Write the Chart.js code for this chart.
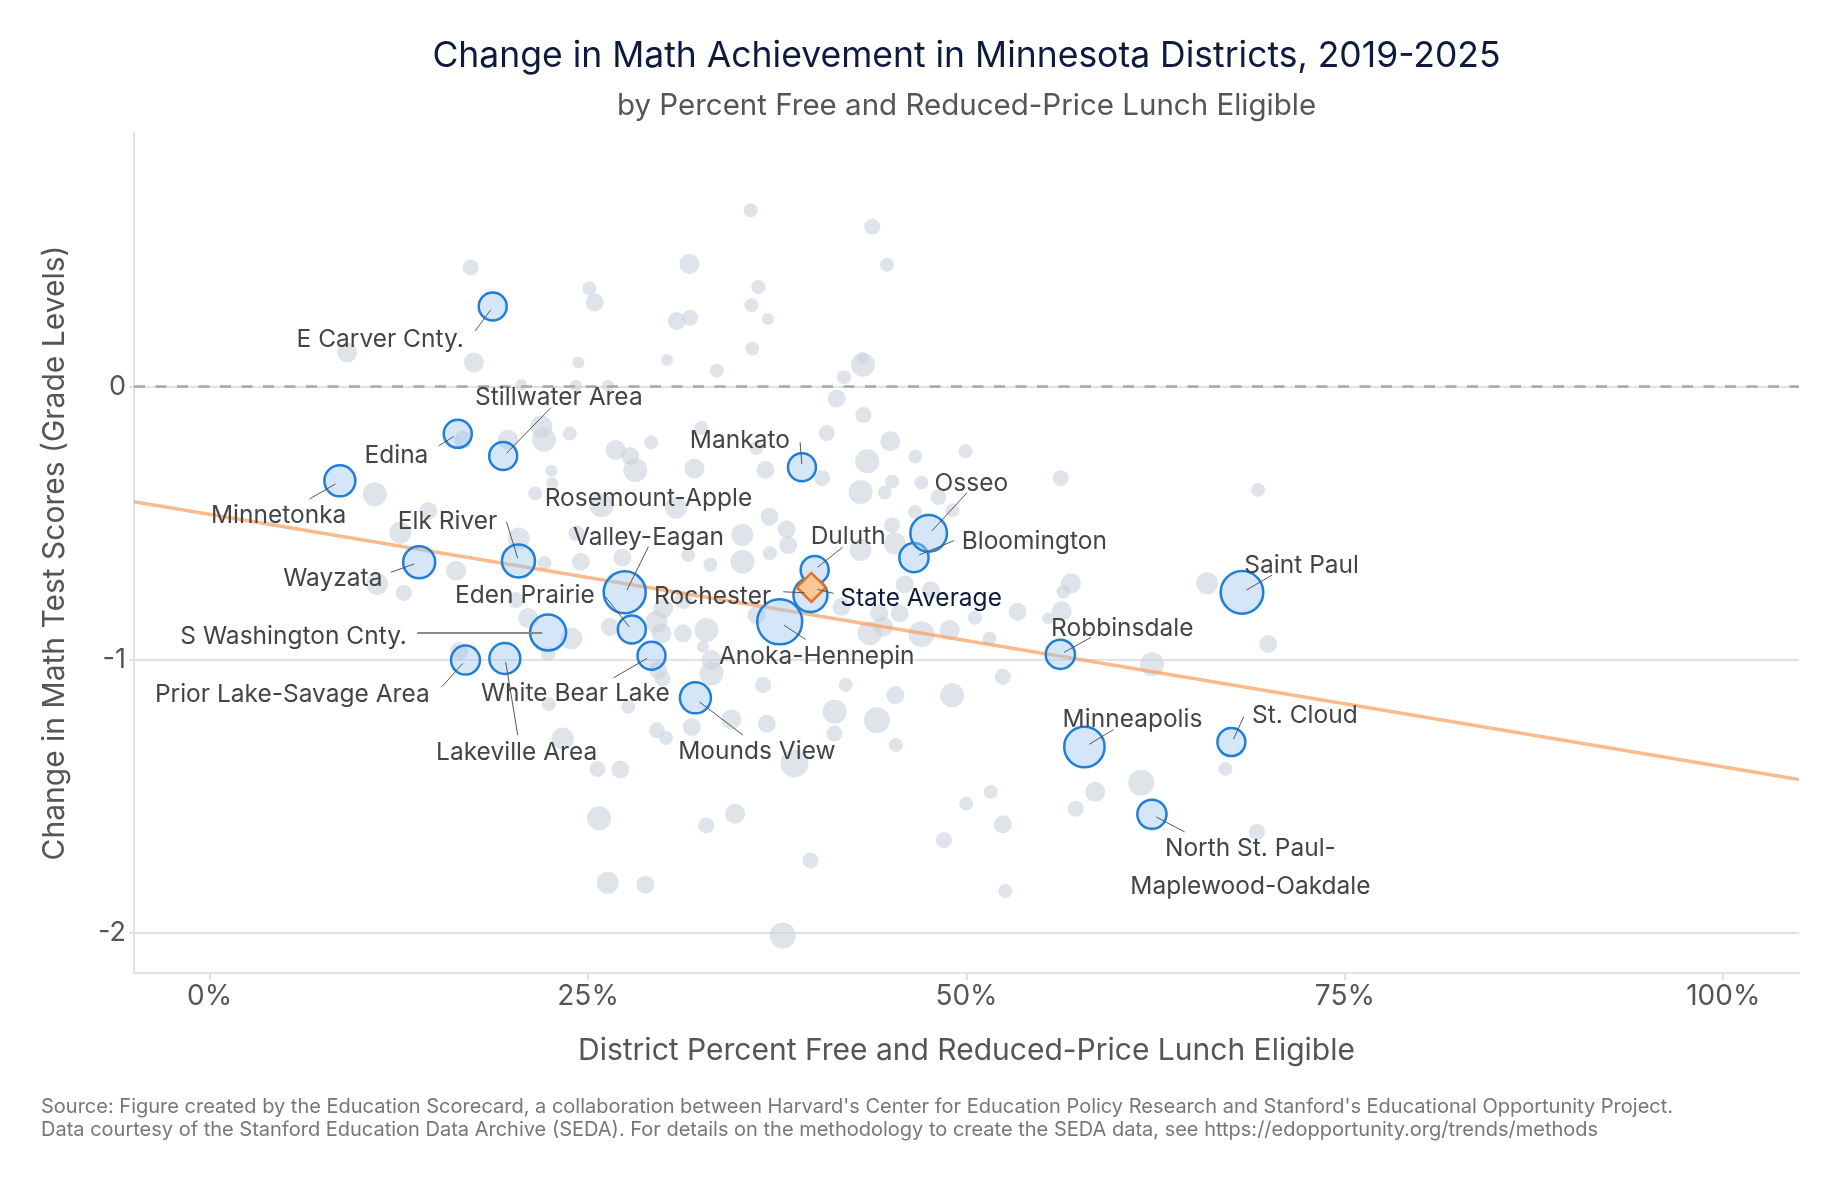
<!DOCTYPE html>
<html>
<head>
<meta charset="utf-8">
<script src="https://cdn.jsdelivr.net/npm/chart.js@4.4.1/dist/chart.umd.min.js"></script>
<style>
html,body{margin:0;padding:0;background:#fff;}
#wrap{position:relative;width:1841px;height:1182px;overflow:hidden;}
canvas{position:absolute;left:0;top:0;}
.t{position:absolute;font-family:Inter,"Noto Sans",sans-serif;white-space:nowrap;}
#title{left:134px;width:1665px;text-align:center;top:35px;font-size:35.5px;line-height:40px;color:#0c1a3d;}
#sub{left:134px;width:1665px;text-align:center;top:87.4px;font-size:29.5px;line-height:34px;color:#555;}
#foot{left:41px;top:1094.6px;font-size:20px;line-height:23.5px;color:#777;}
</style>
</head>
<body>
<div id="wrap">
<canvas id="c" width="1841" height="1182"></canvas>
<div id="title" class="t">Change in Math Achievement in Minnesota Districts, 2019-2025</div>
<div id="sub" class="t">by Percent Free and Reduced-Price Lunch Eligible</div>
<div id="foot" class="t">Source: Figure created by the Education Scorecard, a collaboration between Harvard's Center for Education Policy Research and Stanford's Educational Opportunity Project.<br>Data courtesy of the Stanford Education Data Archive (SEDA). For details on the methodology to create the SEDA data, see https://edopportunity.org/trends/methods</div>
</div>
<script>
// ---- data ----
const xTicks = [0, 25, 50, 75, 100];
const yTicks = [-2, -1, 0];

const grayX = [35.74,43.78,17.24,31.69,44.75,25.09,25.44,36.25,35.79,36.87,30.86,31.74,9.08,17.46,35.84,30.22,24.36,33.50,41.91,43.16,43.14,26.30,20.58,24.20,41.43,43.19,40.77,44.97,32.49,29.17,21.91,22.09,23.79,16.74,19.71,26.82,27.78,28.12,32.03,36.71,36.12,40.46,46.62,49.93,43.44,43.00,44.60,45.08,47.02,48.15,49.08,46.61,45.26,42.99,45.08,56.23,69.26,22.58,22.63,21.50,10.91,25.88,30.81,12.59,14.45,20.42,24.23,24.52,27.27,31.61,33.08,35.20,35.19,36.98,38.12,38.22,37.01,22.12,16.28,11.06,12.83,21.04,23.89,22.36,16.48,20.22,26.43,29.52,29.96,31.28,32.82,31.28,29.85,32.58,33.15,33.15,29.62,29.93,27.66,22.40,23.33,29.55,30.15,25.62,27.13,25.72,26.30,28.78,32.80,34.71,38.63,39.69,37.86,31.85,34.47,36.81,36.56,42.02,45.30,49.05,41.29,44.08,41.28,45.33,36.12,41.74,43.61,45.58,44.23,44.48,47.03,48.89,50.56,51.52,45.92,47.64,53.38,56.90,56.40,56.29,55.39,52.40,65.90,69.93,62.26,67.10,61.54,58.50,57.22,69.19,51.60,49.98,48.51,52.40,52.56];
const grayY = [0.645,0.585,0.436,0.449,0.446,0.360,0.308,0.364,0.298,0.247,0.240,0.252,0.125,0.088,0.139,0.097,0.088,0.058,0.034,0.080,0.105,0.003,0.006,0.003,-0.044,-0.104,-0.170,-0.200,-0.152,-0.205,-0.146,-0.195,-0.172,-0.195,-0.195,-0.232,-0.254,-0.305,-0.300,-0.305,-0.225,-0.335,-0.256,-0.237,-0.273,-0.386,-0.388,-0.347,-0.351,-0.404,-0.453,-0.459,-0.574,-0.598,-0.507,-0.335,-0.378,-0.308,-0.354,-0.391,-0.394,-0.434,-0.443,-0.535,-0.455,-0.556,-0.537,-0.641,-0.626,-0.616,-0.652,-0.641,-0.543,-0.476,-0.522,-0.580,-0.610,-0.646,-0.674,-0.722,-0.755,-0.847,-0.922,-0.979,-0.967,-0.781,-0.879,-0.861,-0.812,-0.781,-0.891,-0.903,-0.903,-0.952,-1.001,-1.050,-1.037,-1.068,-1.172,-1.162,-1.288,-1.258,-1.286,-1.399,-1.401,-1.580,-1.816,-1.823,-1.606,-1.563,-1.379,-1.734,-2.009,-1.246,-1.218,-1.233,-1.092,-1.092,-1.129,-1.130,-1.190,-1.221,-1.270,-1.312,-0.836,-0.806,-0.903,-0.830,-0.830,-0.879,-0.906,-0.891,-0.846,-0.922,-0.723,-0.745,-0.824,-0.720,-0.751,-0.822,-0.848,-1.062,-0.720,-0.942,-1.016,-1.399,-1.450,-1.483,-1.545,-1.630,-1.483,-1.526,-1.660,-1.602,-1.846];
const grayR = [7,8,8,10,7,7,9,7,7,6,9,8,10,10,7,6,6,7,7,12,6,6,6,6,9,8,8,10,7,7,11,12,7,9,10,10,9,12,10,9,7,8,7,7,12,12,7,7,7,8,7,7,11,11,8,8,7,6,6,7,12,12,11,11,9,11,8,9,9,7,7,12,11,9,9,9,7,7,10,11,8,10,11,7,9,8,9,11,10,9,12,9,10,6,10,12,9,8,7,7,11,8,7,8,9,12,11,9,8,10,14,8,13,9,10,9,8,7,9,12,12,13,8,7,9,9,12,9,9,10,13,10,7,7,9,9,9,10,7,10,6,8,11,9,12,7,13,10,8,8,7,7,8,9,7];

const hlNames = ['E Carver Cnty.','Edina','Stillwater Area','Minnetonka','Wayzata','Elk River','S Washington Cnty.','Prior Lake-Savage Area','Lakeville Area','Rosemount-Apple\nValley-Eagan','Eden Prairie','White Bear Lake','Mounds View','Anoka-Hennepin','Rochester','Duluth','Mankato','Bloomington','Osseo','Robbinsdale','Saint Paul','Minneapolis','St. Cloud','North St. Paul-\nMaplewood-Oakdale'];
const hlX = [18.70,16.39,19.39,8.60,13.84,20.40,22.36,16.90,19.50,27.42,27.89,29.19,32.09,37.66,39.69,39.97,39.13,46.53,47.50,56.20,68.20,57.79,67.50,62.25];
const hlY = [0.293,-0.173,-0.254,-0.345,-0.643,-0.638,-0.900,-1.001,-0.995,-0.753,-0.889,-0.985,-1.139,-0.861,-0.763,-0.671,-0.295,-0.626,-0.537,-0.980,-0.753,-1.319,-1.301,-1.565];
const hlR = [14,14,14,15.5,16,16.5,18,14.5,15.5,21,14,14,15.5,22.5,17,14,14,14.6,18.3,14.6,21.3,20.2,14,14.6];

const stateName = 'State Average';
const stateX = [39.75];
const stateY = [-0.735];

const trendX = [-5, 105];
const trendY = [-0.421, -1.438];

// ---- label layout (pixel offsets from each point) ----
const labelLayout = {
  'E Carver Cnty.': {dx:-29, dy:30, a:'right', l:[-17.5,24.3,-2,3.3]},
  'Edina': {dx:-29.4, dy:18.7, a:'right', l:[-19.2,12,-4,2.7]},
  'Stillwater Area': {dx:55.7, dy:-61, a:'center', l:[47.7,-48.3,3.4,-2.7]},
  'Minnetonka': {dx:-61.2, dy:31.7, a:'center', l:[-30.2,18,-4.3,3]},
  'Wayzata': {dx:-36.7, dy:13.7, a:'right', l:[-28.3,10,-5,1.7]},
  'Elk River': {dx:-70.9, dy:-42, a:'center', l:[-12,-39.3,-0.8,-2.7]},
  'S Washington Cnty.': {dx:-141.2, dy:1, a:'right', l:[-130.9,0.4,-5.9,0.4], lc:'#888', lw:2},
  'Prior Lake-Savage Area': {dx:-35.8, dy:31.7, a:'right', l:[-23.7,26.7,-2.7,3.3]},
  'Lakeville Area': {dx:11.8, dy:90.7, a:'center', l:[12.9,76.7,0.8,3.4]},
  'Rosemount-Apple\nValley-Eagan': {dx:23.7, dy:-96.3, a:'center', l:[23.7,-45.6,2.2,-2.3]},
  'Eden Prairie': {dx:-37, dy:-37, a:'right', l:[-26.2,-32.6,-2.5,-2.6]},
  'White Bear Lake': {dx:-76.2, dy:35, a:'center', l:[-37.9,22,-4.4,2.6]},
  'Mounds View': {dx:61.5, dy:51.3, a:'center', l:[47.6,37.3,3.9,4]},
  'Anoka-Hennepin': {dx:37, dy:31.6, a:'center', l:[25.8,17.6,4.4,3.3]},
  'Rochester': {dx:-39.3, dy:-1.7, a:'right', l:[-27.2,-3.3,-5.7,-2.3]},
  'Duluth': {dx:33.5, dy:-36, a:'center', l:[27.9,-22.7,2.9,-2.7]},
  'State Average': {dx:28.9, dy:8.4, a:'left', l:[6.2,2,22.2,6]},
  'Mankato': {dx:-12.1, dy:-30, a:'right', l:[-1.9,-25,-0.1,-3]},
  'Osseo': {dx:42.7, dy:-52.6, a:'center', l:[38.4,-40.6,3.1,-2.3]},
  'Bloomington': {dx:47.7, dy:-19.4, a:'left', l:[40.2,-17,5.3,-2.7]},
  'Robbinsdale': {dx:61.9, dy:-28.3, a:'center', l:[30.5,-17,3.7,-2]},
  'Saint Paul': {dx:59.7, dy:-29.6, a:'center', l:[30.2,-17.3,4.4,-2.3]},
  'Minneapolis': {dx:48.1, dy:-30, a:'center', l:[29,-17.4,4.9,-2.7]},
  'St. Cloud': {dx:73.5, dy:-29.7, a:'center', l:[12.3,-25.3,2.1,-3]},
  'North St. Paul-\nMaplewood-Oakdale': {dx:98.5, dy:31, a:'center', l:[32.7,17.7,4.3,2.7]}
};
const LABEL_SHIFT_Y = 3;

const FONT = 'Inter, "Noto Sans", sans-serif';
const GRID = '#e2e2e2';

const zeroLinePlugin = {
  id: 'zeroLine',
  afterDatasetsDraw(chart) {
    const {ctx, chartArea, scales} = chart;
    const y = scales.y.getPixelForValue(0);
    ctx.save();
    ctx.strokeStyle = '#a8a8a8';
    ctx.lineWidth = 2.5;
    ctx.setLineDash([11, 10.5]);
    ctx.beginPath();
    ctx.moveTo(chartArea.left, y);
    ctx.lineTo(chartArea.right, y);
    ctx.stroke();
    ctx.restore();
  }
};

const labelPlugin = {
  id: 'districtLabels',
  afterDraw(chart) {
    const {ctx, scales} = chart;
    const items = hlNames.map((n, i) => ({name: n, x: hlX[i], y: hlY[i]}));
    items.push({name: stateName, x: stateX[0], y: stateY[0], navy: true});
    ctx.save();
    ctx.font = '24.5px ' + FONT;
    ctx.textBaseline = 'middle';
    items.forEach(it => {
      const L = labelLayout[it.name];
      if (!L) return;
      const px = scales.x.getPixelForValue(it.x);
      const py = scales.y.getPixelForValue(it.y);
      ctx.strokeStyle = L.lc || '#555';
      ctx.lineWidth = L.lw || 1;
      ctx.beginPath();
      ctx.moveTo(px + L.l[0], py + L.l[1]);
      ctx.lineTo(px + L.l[2], py + L.l[3]);
      ctx.stroke();
      ctx.fillStyle = it.navy ? '#0c1a3d' : '#444';
      ctx.textAlign = L.a;
      it.name.split('\n').forEach((s, k) => ctx.fillText(s, px + L.dx, py + L.dy + LABEL_SHIFT_Y + k * 38.3));
    });
    ctx.restore();
  }
};

function draw() {
  new Chart(document.getElementById('c'), {
    type: 'bubble',
    data: {
      datasets: [
        {
          label: 'Districts',
          order: 4,
          data: grayX.map((x, i) => ({x: x, y: grayY[i], r: grayR[i]})),
          backgroundColor: 'rgba(200,208,218,0.58)',
          borderWidth: 0
        },
        {
          type: 'line',
          label: 'Trend',
          order: 3,
          data: trendX.map((x, i) => ({x: x, y: trendY[i]})),
          borderColor: 'rgba(247,160,95,0.72)',
          borderWidth: 3.5,
          pointRadius: 0,
          fill: false,
          tension: 0
        },
        {
          label: 'Highlighted',
          order: 2,
          data: hlX.map((x, i) => ({x: x, y: hlY[i], r: hlR[i]})),
          backgroundColor: 'rgba(160,200,240,0.45)',
          borderColor: '#1f7fd9',
          borderWidth: 2.5
        },
        {
          type: 'scatter',
          label: stateName,
          order: 1,
          data: stateX.map((x, i) => ({x: x, y: stateY[i]})),
          pointStyle: 'rectRot',
          pointRadius: 14.5,
          backgroundColor: '#f9c898',
          borderColor: '#e8711f',
          borderWidth: 2.5,
          showLine: false
        }
      ]
    },
    options: {
      responsive: false,
      devicePixelRatio: 1,
      animation: false,
      events: [],
      layout: {padding: {top: 133, right: 42, bottom: 0, left: 0}},
      plugins: {legend: {display: false}, tooltip: {enabled: false}, title: {display: false}},
      scales: {
        x: {
          type: 'linear',
          min: -5, max: 105,
          afterFit: s => { s.height = 209; },
          afterBuildTicks: s => { s.ticks = xTicks.map(v => ({value: v})); },
          ticks: {
            callback: v => v + '%',
            color: '#555',
            font: {family: FONT, size: 28},
            padding: 0,
            maxRotation: 0
          },
          grid: {drawOnChartArea: false, drawTicks: true, tickLength: 7, color: GRID, lineWidth: 2},
          border: {display: true, color: GRID, width: 2},
          title: {
            display: true,
            text: 'District Percent Free and Reduced-Price Lunch Eligible',
            color: '#555',
            font: {family: FONT, size: 30},
            padding: {top: 0, bottom: 113.5}
          }
        },
        y: {
          type: 'linear',
          min: -2.146, max: 0.928,
          afterFit: s => { s.width = 134; },
          afterBuildTicks: s => { s.ticks = yTicks.map(v => ({value: v})); },
          ticks: {
            callback: v => String(v),
            color: '#555',
            font: {family: FONT, size: 27},
            padding: 3
          },
          grid: {drawOnChartArea: true, drawTicks: true, tickLength: 5, color: GRID, lineWidth: 2},
          border: {display: true, color: GRID, width: 2},
          title: {
            display: true,
            text: 'Change in Math Test Scores (Grade Levels)',
            color: '#555',
            font: {family: FONT, size: 30},
            padding: {top: 37.3, bottom: 0}
          }
        }
      }
    },
    plugins: [zeroLinePlugin, labelPlugin]
  });
}

if (document.fonts && document.fonts.load) {
  Promise.all([document.fonts.load('24px Inter'), document.fonts.load('35px Inter')]).then(draw, draw);
} else {
  draw();
}
</script>
</body>
</html>
